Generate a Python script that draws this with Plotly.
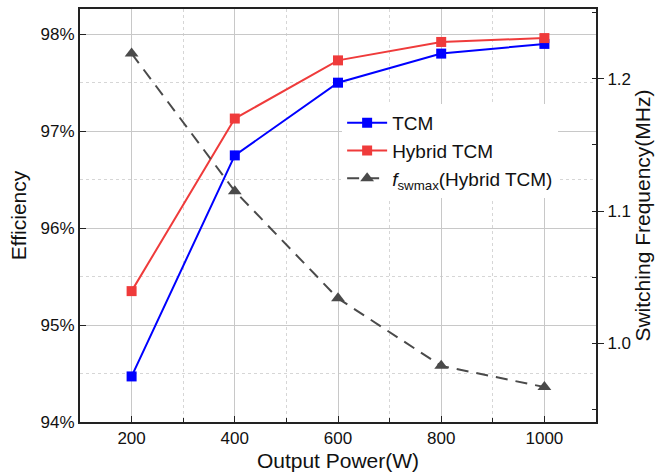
import plotly.graph_objects as go

# Output power levels (W)
power = [200, 400, 600, 800, 1000]

# Efficiency (%) of each modulation scheme
eff_tcm = [94.47, 96.75, 97.50, 97.80, 97.90]
eff_hybrid = [95.35, 97.13, 97.73, 97.92, 97.96]

# Maximum switching frequency (MHz) for hybrid TCM
fsw_hybrid = [1.219, 1.115, 1.034, 0.983, 0.967]

FONT = "Liberation Sans, Arial, sans-serif"

fig = go.Figure()

fig.add_trace(go.Scatter(
    x=power, y=eff_tcm, name="TCM", mode="lines+markers",
    line=dict(color="#0000ff", width=2),
    marker=dict(symbol="square", size=10, color="#0000ff"),
))
fig.add_trace(go.Scatter(
    x=power, y=eff_hybrid, name="Hybrid TCM", mode="lines+markers",
    line=dict(color="#ef3b3b", width=2),
    marker=dict(symbol="square", size=10, color="#ef3b3b"),
))
fig.add_trace(go.Scatter(
    x=power, y=fsw_hybrid, name="<i>f</i><sub>swmax</sub>(Hybrid TCM)",
    mode="lines+markers", yaxis="y2",
    line=dict(color="#4a4a4a", width=2, dash="12px,8px"),
    marker=dict(symbol="triangle-up", size=12, color="#4a4a4a"),
))

fig.update_layout(
    width=668, height=476,
    margin=dict(l=80, r=72, t=7, b=54),
    paper_bgcolor="white", plot_bgcolor="white",
    font=dict(family=FONT, color="#111111", size=17),
    showlegend=True,
    legend=dict(
        x=0.508, y=0.77, xanchor="left", yanchor="top",
        bgcolor="white", borderwidth=0,
        font=dict(size=19, family=FONT, color="#111111"),
        tracegroupgap=0, itemwidth=40,
    ),
    xaxis=dict(
        range=[100, 1100], tickmode="linear", tick0=200, dtick=200,
        ticks="inside", ticklen=6, tickcolor="#222",
        showline=True, linecolor="#222", linewidth=2, mirror=True,
        showgrid=True, gridcolor="#c8c8c8", gridwidth=1,
        minor=dict(dtick=100, tick0=100, ticks="inside", ticklen=4,
                   tickcolor="#222", showgrid=True, gridcolor="#d6d6d6",
                   griddash="dot"),
        title=dict(text="Output Power(W)", font=dict(size=21), standoff=6),
        tickfont=dict(size=17), zeroline=False,
    ),
    yaxis=dict(
        range=[94, 98.26], tickmode="linear", tick0=94, dtick=1,
        ticksuffix="%", ticks="inside", ticklen=6, tickcolor="#222",
        showline=True, linecolor="#222", linewidth=2,
        showgrid=True, gridcolor="#c8c8c8", gridwidth=1,
        minor=dict(dtick=0.5, showgrid=True, gridcolor="#d6d6d6",
                   griddash="dot"),
        title=dict(text="Efficiency", font=dict(size=21), standoff=8),
        tickfont=dict(size=17), zeroline=False,
    ),
    yaxis2=dict(
        overlaying="y", side="right",
        range=[0.9406, 1.2526], tickmode="linear", tick0=1.0, dtick=0.1,
        tickformat=".1f", ticks="outside", ticklen=6, tickcolor="#222",
        showline=True, linecolor="#222", linewidth=2,
        showgrid=False,
        minor=dict(dtick=0.05, tick0=1.0, ticks="inside", ticklen=4,
                   tickcolor="#222", showgrid=False),
        title=dict(text="Switching Frequency(MHz)", font=dict(size=21),
                   standoff=4),
        tickfont=dict(size=17), zeroline=False,
    ),
)

fig.write_html("out.html")
